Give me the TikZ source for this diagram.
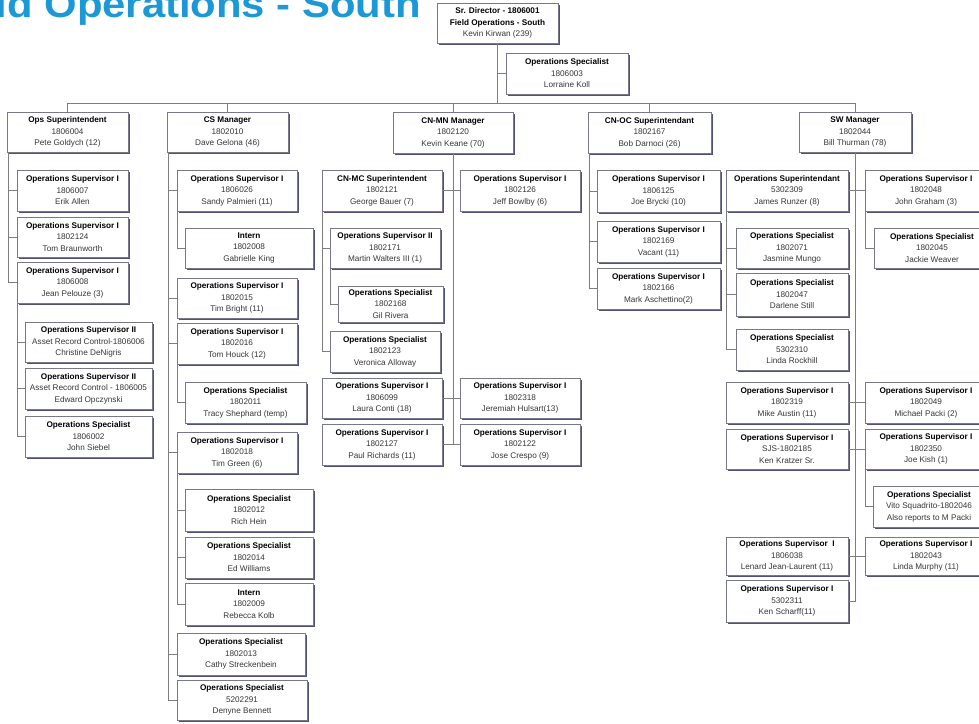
\documentclass[tikz,border=0pt]{standalone}
\usepackage{fontspec}
\setmainfont{Liberation Sans}
\usetikzlibrary{shadows}
\definecolor{titleblue}{RGB}{28,152,214}
\definecolor{shad}{RGB}{80,80,120}
\definecolor{bord}{RGB}{120,120,140}
\definecolor{lin}{RGB}{125,125,125}
\definecolor{txt}{RGB}{55,55,55}
\newcommand\hd[1]{{\color{black}\bfseries #1}}
\newcommand\ob[8]{\node[org, minimum width={(#4-#2)*1pt}, minimum height={(#5-#3)*1pt}] (#1) at ({(#2+#4)/2},{(#3+#5)/2}) {\hd{#6}\\#7\\#8};}
\tikzset{
  org/.style={draw=bord, line width=0.6pt, fill=white, align=center, inner sep=0pt,
    text=txt, font=\fontsize{8.2}{11.5}\selectfont,
    drop shadow={shadow xshift=1.8pt, shadow yshift=-1.8pt, opacity=1, fill=shad}},
  conn/.style={draw=lin, line width=0.8pt}
}
\begin{document}
\begin{tikzpicture}[x=1pt,y=-1pt]
\useasboundingbox (0,0) rectangle (979,723);
\node[anchor=base east, inner sep=0pt, text=titleblue, xscale=1.10,
  font=\fontsize{38}{38}\selectfont\bfseries] (title) at (421,17) {Field Operations - South};

% top
\node[org, minimum width=121pt, minimum height=40pt] (sr) at (497.5,23) {\hd{Sr. Director - 1806001}\\\hd{Field Operations - South}\\Kevin Kirwan (239)};
\ob{lorraine}{506}{53}{628}{94}{Operations Specialist}{1806003}{Lorraine Koll}

% Ops
\ob{ops}{7}{112}{128}{152}{Ops Superintendent}{1806004}{Pete Goldych (12)}
\ob{erik}{17}{170}{128}{211}{Operations Supervisor I}{1806007}{Erik Allen}
\ob{tomb}{17}{217}{128}{257}{Operations Supervisor I}{1802124}{Tom Braunworth}
\ob{jean}{17}{262}{128}{303}{Operations Supervisor I}{1806008}{Jean Pelouze (3)}
\ob{christine}{25}{322}{152}{362}{Operations Supervisor II}{Asset Record Control-1806006}{Christine DeNigris}
\ob{edward}{25}{368}{152}{409}{Operations Supervisor II}{Asset Record Control - 1806005}{Edward Opczynski}
\ob{siebel}{25}{416}{152}{457}{Operations Specialist}{1806002}{John Siebel}

% CS
\ob{cs}{167}{112}{288}{152}{CS Manager}{1802010}{Dave Gelona (46)}
\ob{sandy}{177}{170}{297}{211}{Operations Supervisor I}{1806026}{Sandy Palmieri (11)}
\ob{gabrielle}{185}{228}{313}{268}{Intern}{1802008}{Gabrielle King}
\ob{bright}{177}{278}{297}{318}{Operations Supervisor I}{1802015}{Tim Bright (11)}
\ob{houck}{177}{323}{297}{364}{Operations Supervisor I}{1802016}{Tom Houck (12)}
\ob{tracy}{185}{382}{306}{423}{Operations Specialist}{1802011}{Tracy Shephard (temp)}
\ob{green}{177}{432}{297}{473}{Operations Supervisor I}{1802018}{Tim Green (6)}
\ob{rich}{185}{489}{313}{531}{Operations Specialist}{1802012}{Rich Hein}
\ob{edw}{185}{537}{313}{578}{Operations Specialist}{1802014}{Ed Williams}
\ob{rebecca}{185}{583}{313}{625}{Intern}{1802009}{Rebecca Kolb}
\ob{cathy}{177}{633}{305}{675}{Operations Specialist}{1802013}{Cathy Streckenbein}
\ob{denyne}{177}{680}{307}{720}{Operations Specialist}{5202291}{Denyne Bennett}

% CN-MN
\ob{mn}{393}{112}{513}{153}{CN-MN Manager}{1802120}{Kevin Keane (70)}
\ob{george}{322}{170}{442}{211}{CN-MC Superintendent}{1802121}{George Bauer (7)}
\ob{jeff}{460}{170}{580}{211}{Operations Supervisor I}{1802126}{Jeff Bowlby (6)}
\ob{martin}{330}{228}{440}{268}{Operations Supervisor II}{1802171}{Martin Walters III (1)}
\ob{gil}{338}{286}{443}{322}{Operations Specialist}{1802168}{Gil Rivera}
\ob{veronica}{330}{331}{440}{372}{Operations Specialist}{1802123}{Veronica Alloway}
\ob{laura}{322}{378}{442}{418}{Operations Supervisor I}{1806099}{Laura Conti (18)}
\ob{jeremiah}{460}{378}{580}{418}{Operations Supervisor I}{1802318}{Jeremiah Hulsart(13)}
\ob{paul}{322}{424}{442}{465}{Operations Supervisor I}{1802127}{Paul Richards (11)}
\ob{jose}{460}{424}{580}{465}{Operations Supervisor I}{1802122}{Jose Crespo (9)}

% CN-OC
\ob{oc}{588}{112}{711}{153}{CN-OC Superintendant}{1802167}{Bob Darnoci (26)}
\ob{brycki}{597}{170}{720}{212}{Operations Supervisor I}{1806125}{Joe Brycki (10)}
\ob{vacant}{597}{221}{720}{262}{Operations Supervisor I}{1802169}{Vacant (11)}
\ob{mark}{597}{268}{720}{309}{Operations Supervisor I}{1802166}{Mark Aschettino(2)}

% SW
\ob{sw}{799}{112}{911}{152}{SW Manager}{1802044}{Bill Thurman (78)}
\ob{james}{726}{170}{848}{211}{Operations Superintendant}{5302309}{James Runzer (8)}
\ob{graham}{865}{170}{987}{211}{Operations Supervisor I}{1802048}{John Graham (3)}
\ob{jasmine}{736}{228}{848}{268}{Operations Specialist}{1802071}{Jasmine Mungo}
\ob{darlene}{736}{273}{848}{316}{Operations Specialist}{1802047}{Darlene Still}
\ob{lindar}{736}{329}{848}{370}{Operations Specialist}{5302310}{Linda Rockhill}
\ob{jackie}{874}{228}{990}{268}{Operations Specialist}{1802045}{Jackie Weaver}
\ob{austin}{726}{382}{848}{423}{Operations Supervisor I}{1802319}{Mike Austin (11)}
\ob{packi}{865}{382}{987}{423}{Operations Supervisor I}{1802049}{Michael Packi (2)}
\ob{kratzer}{726}{429}{848}{469}{Operations Supervisor I}{SJS-1802185}{Ken Kratzer Sr.}
\ob{kish}{865}{429}{987}{469}{Operations Supervisor I}{1802350}{Joe Kish (1)}
\ob{vito}{873}{486}{985}{527}{Operations Specialist}{Vito Squadrito-1802046}{Also reports to M Packi}
\ob{lenard}{726}{537}{848}{575}{Operations Supervisor\ \ I}{1806038}{Lenard Jean-Laurent (11)}
\ob{murphy}{865}{537}{987}{575}{Operations Supervisor I}{1802043}{Linda Murphy (11)}
\ob{scharff}{726}{580}{848}{622}{Operations Supervisor I}{5302311}{Ken Scharff(11)}

% connectors
\coordinate (bus) at (0,103);
\draw[conn] (sr.south) |- (lorraine.west);
\foreach \m in {ops,cs,mn,oc,sw}{\draw[conn] (sr.south) -- (sr.south |- bus) -| (\m.north);}
\foreach \c in {erik,tomb,jean}{\draw[conn] ([xshift=1.5pt]ops.south west) |- (\c.west);}
\foreach \c in {christine,edward,siebel}{\draw[conn] ([xshift=0.8pt]jean.south west) |- (\c.west);}
\foreach \c in {sandy,bright,houck,green,cathy,denyne}{\draw[conn] ([xshift=1.5pt]cs.south west) |- (\c.west);}
\draw[conn] ([xshift=0.8pt]sandy.south west) |- (gabrielle.west);
\draw[conn] ([xshift=0.8pt]houck.south west) |- (tracy.west);
\foreach \c in {rich,edw,rebecca}{\draw[conn] ([xshift=0.8pt]green.south west) |- (\c.west);}
\foreach \c in {george,laura,paul}{\draw[conn] (mn.south) |- (\c.east);}
\foreach \c in {jeff,jeremiah,jose}{\draw[conn] (mn.south) |- (\c.west);}
\foreach \c in {martin,veronica}{\draw[conn] ([xshift=0.8pt]george.south west) |- (\c.west);}
\draw[conn] ([xshift=0.8pt]martin.south west) |- (gil.west);
\foreach \c in {brycki,vacant,mark}{\draw[conn] ([xshift=1.5pt]oc.south west) |- (\c.west);}
\foreach \c in {james,austin,kratzer,lenard,scharff}{\draw[conn] (sw.south) |- (\c.east);}
\foreach \c in {graham,packi,kish,murphy}{\draw[conn] (sw.south) |- (\c.west);}
\foreach \c in {jasmine,darlene,lindar}{\draw[conn] ([xshift=1pt]james.south west) |- (\c.west);}
\draw[conn] ([xshift=1pt]graham.south west) |- (jackie.west);
\draw[conn] ([xshift=1pt]kish.south west) |- (vito.west);
\end{tikzpicture}
\end{document}
